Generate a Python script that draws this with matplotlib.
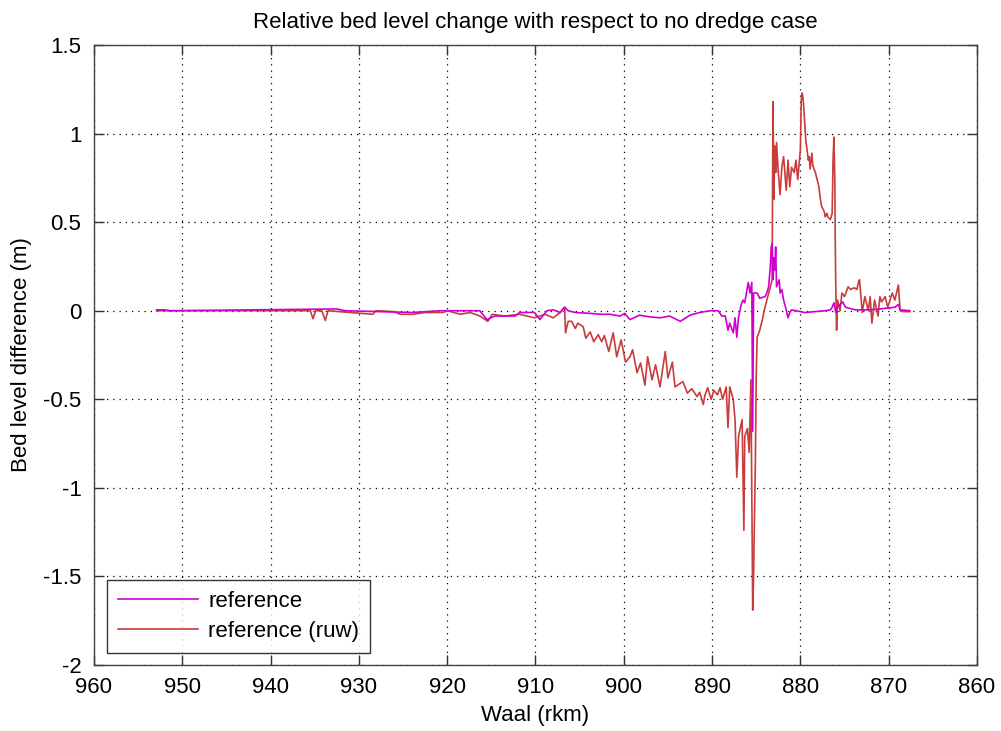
import matplotlib
matplotlib.use("Agg")
import matplotlib.pyplot as plt

plt.rcParams['font.family'] = ['Liberation Sans', 'DejaVu Sans']

# reference (ruw) series: river km and bed level difference (m)
ruw_km = [952.9, 936.7, 935.5, 935.2, 934.9, 934.2, 933.8, 933.5, 928.4, 928.1,
          926.1, 925.3, 923.9, 922.5, 920.5, 920.0, 918.5, 917.4, 916.3, 915.4,
          914.9, 913.5, 911.8, 910.1, 908.9, 908.0, 907.2, 906.7, 906.6, 906.3,
          905.9, 905.5, 905.2, 904.6, 904.3, 903.8, 903.4, 902.9, 902.5, 902.2,
          901.7, 901.2, 900.8, 900.3, 899.8, 899.3, 899.0, 898.5, 898.1, 897.6,
          897.3, 896.8, 896.4, 895.9, 895.3, 895.0, 894.5, 894.2, 893.9, 893.3,
          892.8, 892.3, 891.7, 891.4, 891.0, 890.8, 890.5, 890.1, 889.8, 889.4,
          889.1, 888.8, 888.4, 888.2, 888.0, 887.6, 887.4, 887.2, 887.0, 886.6,
          886.4, 886.3, 886.0, 885.8, 885.6, 885.4, 885.3, 885.1, 885.0, 884.9,
          884.6, 884.3, 884.1, 883.8, 883.4, 883.2, 883.1, 883.0, 882.9, 882.8,
          882.7, 882.5, 882.3, 882.1, 881.9, 881.6, 881.4, 881.2, 881.0, 880.7,
          880.5, 880.3, 880.0, 879.9, 879.8, 879.7, 879.6, 879.4, 879.1, 879.0,
          878.9, 878.7, 878.6, 878.3, 878.1, 877.9, 877.8, 877.6, 877.3, 877.2,
          877.0, 876.9, 876.6, 876.4, 876.3, 876.2, 876.1, 876.05, 876.0, 875.9,
          875.8, 875.5, 875.3, 875.0, 874.6, 874.3, 873.9, 873.6, 873.4, 873.3,
          873.0, 872.7, 872.3, 872.1, 871.9, 871.6, 871.2, 871.0, 870.8, 870.4,
          870.1, 869.6, 869.3, 868.9, 868.7, 868.4, 867.6]
ruw_val = [0.0, 0.0, 0.0, -0.045, 0.0, 0.0, -0.055, 0.0, -0.02, 0.0,
           -0.005, -0.02, -0.02, -0.01, -0.01, 0.0, -0.02, -0.01, -0.03, -0.06,
           -0.02, -0.03, -0.02, -0.04, -0.02, -0.04, -0.01, 0.02, -0.125, -0.06,
           -0.06, -0.1, -0.07, -0.09, -0.155, -0.12, -0.175, -0.135, -0.175, -0.14,
           -0.23, -0.125, -0.26, -0.165, -0.29, -0.26, -0.22, -0.35, -0.295, -0.42,
           -0.26, -0.39, -0.305, -0.43, -0.23, -0.38, -0.29, -0.43, -0.42, -0.40,
           -0.465, -0.44, -0.485, -0.46, -0.53, -0.475, -0.435, -0.50, -0.45, -0.475,
           -0.435, -0.50, -0.43, -0.66, -0.43, -0.50, -0.615, -0.94, -0.71, -0.615,
           -1.24, -0.71, -0.665, -0.80, -0.39, -1.69, -1.5, -0.86, -0.37, -0.15,
           -0.11, -0.05, 0.0, 0.06, 0.135, 0.175, 1.18, 0.63, 0.93, 0.78,
           0.95, 0.78, 0.655, 0.81, 0.87, 0.68, 0.85, 0.70, 0.81, 0.78,
           0.85, 0.74, 0.91, 1.19, 1.23, 1.20, 1.135, 0.97, 0.85, 0.87,
           0.80, 0.89, 0.82, 0.78, 0.74, 0.70, 0.655, 0.59, 0.56, 0.53,
           0.55, 0.53, 0.515, 0.55, 0.85, 0.98, 0.74, 0.40, 0.17, -0.11,
           0.06, 0.0, 0.10, 0.08, 0.135, 0.12, 0.13, 0.12, 0.165, 0.175,
           -0.01, 0.08, 0.0, 0.08, -0.07, 0.06, -0.03, 0.08, 0.05, 0.08,
           0.02, 0.10, 0.06, 0.145, 0.0, -0.005, -0.005]

# reference series
ref_km = [952.9, 952.0, 951.4, 932.5, 931.6, 923.9, 920.8, 918.5, 916.3, 915.5,
          914.6, 912.3, 911.8, 910.1, 909.5, 908.7, 908.0, 907.2, 906.7, 906.3,
          905.5, 903.8, 902.7, 901.6, 900.4, 899.9, 899.3, 898.2, 897.0, 895.9,
          894.8, 893.6, 892.5, 891.4, 890.2, 889.3, 888.9, 888.5, 888.2, 888.0,
          887.6, 887.4, 887.2, 887.0, 886.7, 886.5, 886.3, 885.9, 885.7, 885.5,
          885.4, 885.3, 884.9, 884.6, 884.0, 883.8, 883.6, 883.4, 883.3, 883.2,
          883.1, 883.0, 882.9, 882.8, 882.7, 882.4, 882.3, 882.1, 881.9, 881.6,
          881.4, 881.2, 881.0, 880.0, 879.5, 878.3, 877.2, 876.6, 876.4, 876.2,
          876.0, 875.8, 875.2, 874.9, 873.8, 872.1, 871.0, 869.3, 868.9, 868.7,
          867.6]
ref_val = [0.005, 0.005, 0.0, 0.01, 0.0, -0.01, 0.0, 0.0, 0.0, -0.05,
           -0.03, -0.03, -0.01, -0.01, -0.05, 0.0, 0.005, -0.01, 0.02, 0.0,
           -0.01, -0.015, -0.02, -0.02, -0.03, -0.015, -0.05, -0.025, -0.035, -0.04,
           -0.03, -0.06, -0.025, -0.01, 0.0, 0.0, -0.03, -0.03, -0.11, -0.07,
           -0.125, -0.04, -0.15, -0.035, 0.035, 0.06, 0.045, 0.16, 0.10, 0.16,
           -0.68, 0.10, 0.10, 0.07, 0.08, 0.10, 0.135, 0.25, 0.36, 0.38,
           0.175, 0.30, 0.23, 0.36, 0.135, 0.175, 0.10, 0.12, 0.06, 0.005,
           -0.04, -0.01, 0.005, -0.005, -0.01, -0.005, 0.0, 0.005, 0.02, 0.045,
           -0.01, 0.02, 0.05, 0.02, 0.005, 0.005, 0.01, 0.02, 0.035, 0.005,
           0.0]

series_labels = ['reference', 'reference (ruw)']
x_ticks = [960, 950, 940, 930, 920, 910, 900, 890, 880, 870, 860]
y_ticks = [-2, -1.5, -1, -0.5, 0, 0.5, 1, 1.5]

FS = 16

fig = plt.figure(figsize=(10.01, 7.31), dpi=100)
ax = fig.add_axes([0.0939, 0.0903, 0.8821, 0.8481])

l_ruw, = ax.plot(ruw_km, ruw_val, color='#c83c3c', lw=1.2, zorder=2)
l_ref, = ax.plot(ref_km, ref_val, color='#d000d0', lw=1.2, zorder=3)

ax.set_xlim(960, 860)
ax.set_ylim(-2, 1.5)
ax.set_xticks(x_ticks)
ax.set_yticks(y_ticks)
ax.set_xticklabels([str(t) for t in x_ticks])
ax.set_yticklabels(['-2', '-1.5', '-1', '-0.5', '0', '0.5', '1', '1.5'])
ax.tick_params(direction='in', top=True, right=True, length=7, width=1,
               labelsize=FS, pad=9, color='#333333')
ax.grid(True, color='black', linestyle=(0, (1, 4)), linewidth=0.9)
for s in ax.spines.values():
    s.set_color('#444444')
    s.set_linewidth(1.0)

ax.set_title('Relative bed level change with respect to no dredge case',
             fontsize=FS, pad=12)
ax.set_xlabel('Waal (rkm)', fontsize=FS, labelpad=5)
ax.set_ylabel('Bed level difference (m)', fontsize=FS, labelpad=8)

leg = ax.legend([l_ref, l_ruw], series_labels, loc='lower left',
                fontsize=FS, handlelength=3.6, handletextpad=0.45,
                frameon=True, fancybox=False, borderaxespad=0.0,
                edgecolor='black', borderpad=0.5, labelspacing=0.4,
                bbox_to_anchor=(0.0147, 0.019))
leg.get_frame().set_linewidth(1.0)

fig.savefig('out.png', dpi=100, facecolor='white')
